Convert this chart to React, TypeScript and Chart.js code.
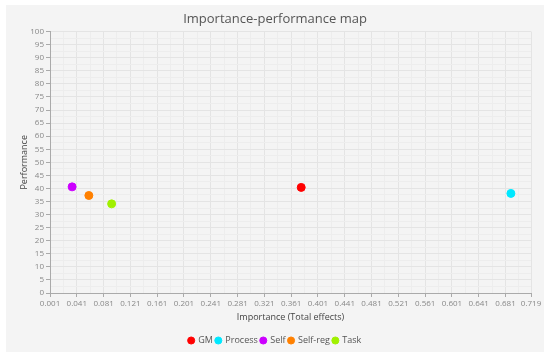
import React, { useEffect, useRef } from "react";
import { Chart, registerables } from "chart.js";

Chart.register(...registerables);

const seriesNames = ["GM", "Process", "Self", "Self-reg", "Task"];
const importance = [0.376, 0.689, 0.034, 0.059, 0.093];
const performance = [40.4, 38.1, 40.6, 37.3, 34.1];
const seriesColors = ["#ff0000", "#00e8ff", "#cc00ff", "#ff8000", "#a0f000"];

const xMajorTicks = [0.001, 0.041, 0.081, 0.121, 0.161, 0.201, 0.241, 0.281, 0.321, 0.361, 0.401, 0.441, 0.481, 0.521, 0.561, 0.601, 0.641, 0.681, 0.719];
const xMinorTicks = [0.021, 0.061, 0.101, 0.141, 0.181, 0.221, 0.261, 0.301, 0.341, 0.381, 0.421, 0.461, 0.501, 0.541, 0.581, 0.621, 0.661, 0.701];
const yMajorTicks = [0, 5, 10, 15, 20, 25, 30, 35, 40, 45, 50, 55, 60, 65, 70, 75, 80, 85, 90, 95, 100];
const yMinorTicks = [2.5, 7.5, 12.5, 17.5, 22.5, 27.5, 32.5, 37.5, 42.5, 47.5, 52.5, 57.5, 62.5, 67.5, 72.5, 77.5, 82.5, 87.5, 92.5, 97.5];

const FONT = "'Open Sans', 'Noto Sans', sans-serif";

export default function App() {
  const ref = useRef<HTMLCanvasElement | null>(null);

  useEffect(() => {
    document.body.style.margin = "0";
    const xMajorSet = new Set(xMajorTicks.map((v) => v.toFixed(3)));
    const ySet = new Set(yMajorTicks.map((v) => String(v)));
    const chart = new Chart(ref.current as HTMLCanvasElement, {
      type: "scatter",
      data: {
        datasets: seriesNames.map((name, i) => ({
          label: name,
          data: [{ x: importance[i], y: performance[i] }],
          backgroundColor: seriesColors[i],
          borderColor: seriesColors[i],
          pointRadius: 4,
          pointHoverRadius: 4,
          pointStyle: "circle",
        })),
      },
      options: {
        animation: false,
        responsive: false,
        maintainAspectRatio: false,
        layout: { padding: { left: 13, right: 13, top: 2, bottom: 0 } },
        plugins: {
          title: {
            display: true,
            text: "Importance-performance map",
            color: "#555555",
            font: { family: FONT, size: 13, weight: "normal" },
            padding: { top: 4, bottom: 5 },
          },
          legend: {
            position: "bottom",
            labels: {
              usePointStyle: true,
              pointStyle: "circle",
              boxWidth: 5,
              boxHeight: 5,
              padding: 3,
              color: "#555555",
              font: { family: FONT, size: 9 },
            },
          },
          tooltip: { enabled: false },
        },
        scales: {
          x: {
            type: "linear",
            min: 0.001,
            max: 0.719,
            afterBuildTicks: (s: any) => {
              s.ticks = [...xMajorTicks, ...xMinorTicks].sort((a, b) => a - b).map((v) => ({ value: v }));
            },
            afterFit: (s: any) => {
              s.height = 40;
            },
            ticks: {
              autoSkip: false,
              maxRotation: 0,
              padding: 2,
              color: "#888888",
              font: { family: FONT, size: 8 },
              callback: (v: any) => (xMajorSet.has(Number(v).toFixed(3)) ? Number(v).toFixed(3) : ""),
            },
            grid: {
              color: (c: any) => (c.tick && xMajorSet.has(Number(c.tick.value).toFixed(3)) ? "#e4e4e4" : "#ededed"),
              tickColor: (c: any) => (c.tick && xMajorSet.has(Number(c.tick.value).toFixed(3)) ? "#aaaaaa" : "rgba(0,0,0,0)"),
              tickLength: 4,
            },
            border: { color: "#aaaaaa" },
            title: {
              display: true,
              text: "Importance (Total effects)",
              color: "#444444",
              font: { family: FONT, size: 9 },
              padding: { top: 0, bottom: 10 },
            },
          },
          y: {
            type: "linear",
            min: 0,
            max: 100,
            afterBuildTicks: (s: any) => {
              s.ticks = [...yMajorTicks, ...yMinorTicks].sort((a, b) => a - b).map((v) => ({ value: v }));
            },
            afterFit: (s: any) => {
              s.width = 31;
            },
            ticks: {
              autoSkip: false,
              padding: 2,
              color: "#888888",
              font: { family: FONT, size: 8 },
              callback: (v: any) => (ySet.has(String(v)) ? String(v) : ""),
            },
            grid: {
              color: (c: any) => (c.tick && ySet.has(String(c.tick.value)) ? "#e4e4e4" : "#ededed"),
              tickColor: (c: any) => (c.tick && ySet.has(String(c.tick.value)) ? "#aaaaaa" : "rgba(0,0,0,0)"),
              tickLength: 4,
            },
            border: { color: "#aaaaaa" },
            title: {
              display: true,
              text: "Performance",
              color: "#444444",
              font: { family: FONT, size: 9 },
              padding: { top: 0, bottom: 2 },
            },
          },
        },
      },
    });
    return () => chart.destroy();
  }, []);

  return (
    <div style={{ position: "relative", width: 550, height: 359, background: "#ffffff" }}>
      <div style={{ position: "absolute", left: 6, top: 5, width: 538, height: 347, background: "#f4f4f4" }}>
        <canvas ref={ref} width={538} height={350} style={{ width: 538, height: 350, display: "block" }} />
      </div>
    </div>
  );
}
